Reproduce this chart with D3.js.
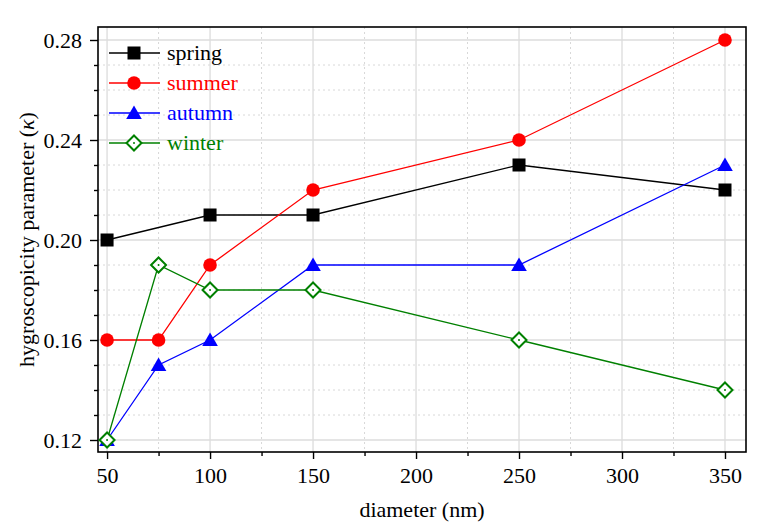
<!DOCTYPE html>
<html>
<head>
<meta charset="utf-8">
<script src="https://cdn.jsdelivr.net/npm/d3@7"></script>
<style>
  body { margin: 0; background: #fff; }
  svg text { font-family: "Liberation Serif", "Times New Roman", serif; }
</style>
</head>
<body>
<div id="chart"></div>
<script>
// Diameters and kappa values per season
const diameters = [50, 75, 100, 150, 250, 350];
const springX = [50, 100, 150, 250, 350];
const springY = [0.20, 0.21, 0.21, 0.23, 0.22];
const summerY = [0.16, 0.16, 0.19, 0.22, 0.24, 0.28];
const autumnY = [0.12, 0.15, 0.16, 0.19, 0.19, 0.23];
const winterY = [0.12, 0.19, 0.18, 0.18, 0.16, 0.14];

const xTicks = [50, 100, 150, 200, 250, 300, 350];
const yTicks = [0.12, 0.16, 0.20, 0.24, 0.28];

const series = [
  { name: "spring", color: "#000000", symbol: "square", xs: springX, ys: springY },
  { name: "summer", color: "#ff0000", symbol: "circle", xs: diameters, ys: summerY },
  { name: "autumn", color: "#0000ff", symbol: "triangle", xs: diameters, ys: autumnY },
  { name: "winter", color: "#008000", symbol: "diamond", xs: diameters, ys: winterY },
];

const width = 764, height = 525;
const margin = { top: 27, right: 18, bottom: 73, left: 98 };
const innerW = width - margin.left - margin.right,
  innerH = height - margin.top - margin.bottom;

const svg = d3.select("#chart").append("svg")
  .attr("width", width).attr("height", height);

const g = svg.append("g")
  .attr("transform", "translate(" + margin.left + "," + margin.top + ")");

const x = d3.scaleLinear().domain([45.6, 360.2]).range([0, innerW]);
const y = d3.scaleLinear().domain([0.1152, 0.2852]).range([innerH, 0]);

const minorX = d3.range(75, 351, 50);
const minorY = d3.range(0.12, 0.2801, 0.01).filter(v => !yTicks.some(t => Math.abs(t - v) < 1e-6));

// Grid: solid at major ticks, dotted at minor ticks
g.append("g").selectAll("line").data(minorX).join("line")
  .attr("x1", d => x(d)).attr("x2", d => x(d)).attr("y1", 0).attr("y2", innerH)
  .attr("stroke", "#d8d8d8").attr("stroke-dasharray", "2,3");
g.append("g").selectAll("line").data(minorY).join("line")
  .attr("y1", d => y(d)).attr("y2", d => y(d)).attr("x1", 0).attr("x2", innerW)
  .attr("stroke", "#d8d8d8").attr("stroke-dasharray", "2,3");
g.append("g").selectAll("line").data(xTicks).join("line")
  .attr("x1", d => x(d)).attr("x2", d => x(d)).attr("y1", 0).attr("y2", innerH)
  .attr("stroke", "#dcdcdc").attr("stroke-width", 1.3);
g.append("g").selectAll("line").data(yTicks).join("line")
  .attr("y1", d => y(d)).attr("y2", d => y(d)).attr("x1", 0).attr("x2", innerW)
  .attr("stroke", "#dcdcdc").attr("stroke-width", 1.3);

// Axes
g.append("g").attr("transform", "translate(0," + innerH + ")")
  .call(d3.axisBottom(x).tickValues(xTicks).tickSize(7).tickPadding(8).tickFormat(d3.format("d")));
g.append("g").attr("transform", "translate(0," + innerH + ")")
  .call(d3.axisBottom(x).tickValues(minorX).tickSize(4).tickFormat(""));
g.append("g")
  .call(d3.axisLeft(y).tickValues(yTicks).tickSize(8).tickPadding(8).tickFormat(d3.format(".2f")));
g.append("g")
  .call(d3.axisLeft(y).tickValues(minorY).tickSize(4).tickFormat(""));

g.selectAll(".domain").remove();
g.selectAll(".tick line").attr("stroke", "#000").attr("stroke-width", 1.4);
g.selectAll(".tick text").attr("font-size", 22).attr("fill", "#000")
  .attr("font-family", "Liberation Serif");

// Frame
g.append("rect").attr("width", innerW).attr("height", innerH)
  .attr("fill", "none").attr("stroke", "#000").attr("stroke-width", 1.6);

// Symbols
function drawSymbol(sel, s) {
  if (s.symbol === "square") {
    sel.append("rect").attr("x", -6.5).attr("y", -6.5).attr("width", 13).attr("height", 13)
      .attr("fill", s.color);
  } else if (s.symbol === "circle") {
    sel.append("circle").attr("r", 6.8).attr("fill", s.color);
  } else if (s.symbol === "triangle") {
    sel.append("path").attr("d", "M0,-7.5L7.8,6L-7.8,6Z").attr("fill", s.color);
  } else {
    sel.append("path").attr("d", "M0,-7.5L7.5,0L0,7.5L-7.5,0Z")
      .attr("fill", "#fff").attr("stroke", s.color).attr("stroke-width", 2);
    sel.append("circle").attr("r", 1).attr("fill", s.color);
  }
}

const line = d3.line().x(d => x(d[0])).y(d => y(d[1]));

series.forEach(s => {
  const pts = s.xs.map((v, i) => [v, s.ys[i]]);
  g.append("path").datum(pts)
    .attr("d", line).attr("fill", "none")
    .attr("stroke", s.color).attr("stroke-width", 1.3);
});
series.forEach(s => {
  const pts = s.xs.map((v, i) => [v, s.ys[i]]);
  g.append("g").selectAll("g").data(pts).join("g")
    .attr("transform", d => "translate(" + x(d[0]) + "," + y(d[1]) + ")")
    .each(function () { drawSymbol(d3.select(this), s); });
});

// Legend
const legend = svg.append("g").attr("transform", "translate(109,53)");
series.forEach((s, i) => {
  const row = legend.append("g").attr("transform", "translate(0," + i * 30 + ")");
  row.append("line").attr("x1", 0).attr("x2", 51).attr("stroke", s.color).attr("stroke-width", 1.3);
  drawSymbol(row.append("g").attr("transform", "translate(25,0)"), s);
  row.append("text").attr("x", 58).attr("y", 7).attr("font-size", 22)
    .attr("fill", s.color).text(s.name);
});

// Axis titles
svg.append("text")
  .attr("x", margin.left + innerW / 2).attr("y", 517)
  .attr("text-anchor", "middle").attr("font-size", 22)
  .text("diameter (nm)");

const yt = svg.append("text")
  .attr("transform", "translate(34," + (margin.top + innerH / 2) + ") rotate(-90)")
  .attr("text-anchor", "middle").attr("font-size", 22);
yt.append("tspan").text("hygroscopicity parameter (");
yt.append("tspan").attr("font-style", "italic").text("κ");
yt.append("tspan").text(")");
</script>
</body>
</html>
